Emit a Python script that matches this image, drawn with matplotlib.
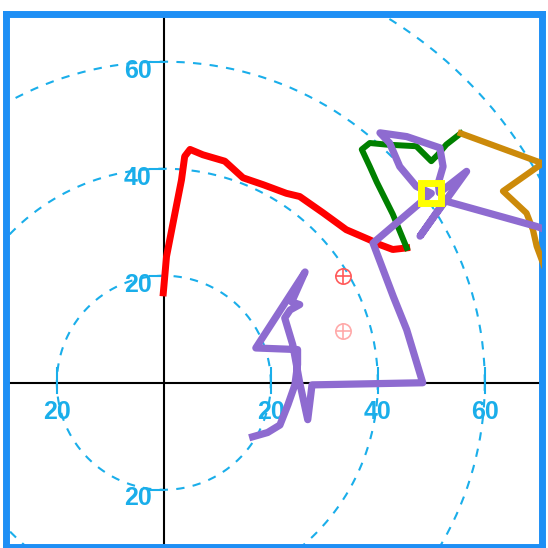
import numpy as np
import matplotlib.pyplot as plt

# hodograph segments (u, v in knots)
red_u = [-0.1, 0.5, 2.1, 3.3, 3.9, 4.9, 7.3, 11.4, 14.8, 18.6, 22.9, 25.4, 29.7, 34.1, 38.5, 40.4, 42.8, 45.4]
red_v = [16.8, 23.6, 31.8, 37.9, 42.3, 43.6, 42.6, 41.4, 38.3, 37.0, 35.4, 34.8, 31.8, 28.6, 26.7, 25.8, 24.9, 25.2]

green_u = [45.4, 42.8, 39.8, 38.5, 37.0, 38.5, 41.6, 47.2, 50.0, 51.2, 52.8, 55.5]
green_v = [25.2, 31.5, 37.5, 40.4, 43.6, 44.8, 44.5, 44.2, 41.4, 42.6, 44.5, 46.6]

orange_u = [55.5, 70.8, 63.4, 67.8, 69.0, 69.7, 71.0]
orange_v = [46.6, 41.0, 35.8, 31.7, 28.6, 25.5, 22.0]

purple_u = [16.6, 19.4, 21.7, 23.2, 24.5, 25.0, 25.0, 17.2, 26.4, 23.9, 25.4, 23.6, 22.6, 24.1,
            25.4, 26.9, 27.7, 48.4, 45.4, 42.9, 39.1, 47.9, 50.0, 47.2, 44.1, 42.2, 40.4, 45.4,
            51.6, 52.2, 51.3, 51.5, 56.6, 47.9, 52.5, 69.7, 73.0]
purple_v = [-10.1, -9.3, -7.9, -4.1, -0.4, 3.4, 6.2, 6.5, 20.7, 15.1, 14.6, 13.6, 12.1, 7.1,
            0.0, -6.9, -0.4, 0.0, 9.9, 16.1, 26.1, 33.6, 35.4, 36.7, 40.4, 44.8, 46.7, 46.0,
            43.9, 40.4, 37.3, 35.5, 39.5, 27.4, 34.0, 29.2, 28.0]

storm_u, storm_v = 50.0, 35.4
motion_u = [33.5, 33.5]
motion_v = [19.9, 9.6]
motion_colors = ['#ff5a5a', '#ffaaaa']

rings = [20, 40, 60, 80]
ring_color = '#1aaeea'

fig = plt.figure(figsize=(5.48, 5.48), dpi=100)
ax = fig.add_axes([5.5 / 548, 1.5 / 548, 536 / 548, 533 / 548])
ax.set_xlim(-29.6, 70.6)
ax.set_ylim(-30.6, 69.0)
ax.set_xticks([])
ax.set_yticks([])
for s in ax.spines.values():
    s.set_color('#1e8ff5')
    s.set_linewidth(5)

# range rings
t = np.linspace(0, 2 * np.pi, 400)
for r in rings:
    ax.plot(r * np.cos(t), r * np.sin(t), color=ring_color, lw=1.5, linestyle=(0, (4, 4)), zorder=1)

ax.axhline(0, color='black', lw=1.5, zorder=2)
ax.axvline(0, color='black', lw=1.5, zorder=2)

# ring labels
lab = dict(color=ring_color, fontsize=18, fontweight='bold', family='Liberation Sans', zorder=3)
for r in [20, 40, 60]:
    ax.plot([-2.5, 0], [r, r], color=ring_color, lw=1.5, zorder=3)
    ax.text(-2.3, r - 1.7, str(r), ha='right', va='center', **lab)
    ax.plot([r, r], [2.8, -1.9], color=ring_color, lw=1.5, zorder=3)
    ax.text(r, -5.4, str(r), ha='center', va='center', **lab)
ax.plot([-20, -20], [2.8, -1.9], color=ring_color, lw=1.5, zorder=3)
ax.text(-20, -5.4, '20', ha='center', va='center', **lab)
ax.plot([-2.5, 0], [-20, -20], color=ring_color, lw=1.5, zorder=3)
ax.text(-2.3, -21.5, '20', ha='right', va='center', **lab)

# wind profile
ax.plot(red_u, red_v, color='#ff0000', lw=5, solid_joinstyle='round', zorder=4)
ax.plot(green_u, green_v, color='#008000', lw=4.3, solid_joinstyle='round', zorder=4)
ax.plot(orange_u, orange_v, color='#cc8a0a', lw=4.5, solid_joinstyle='round', zorder=4)
ax.plot(purple_u, purple_v, color='#8e6bd0', lw=5.2, solid_joinstyle='round', zorder=5)

# storm motion markers
for u, v, c in zip(motion_u, motion_v, motion_colors):
    ax.plot(u, v, marker='o', ms=11, mfc='none', mec=c, mew=1.2, zorder=6)
    ax.plot(u, v, marker='+', ms=11, mec=c, mew=1.2, zorder=6)

ax.plot(storm_u, storm_v, marker='s', ms=14, mfc='none', mec='#ffff00', mew=5, zorder=7)

fig.savefig('out.png', dpi=100)
